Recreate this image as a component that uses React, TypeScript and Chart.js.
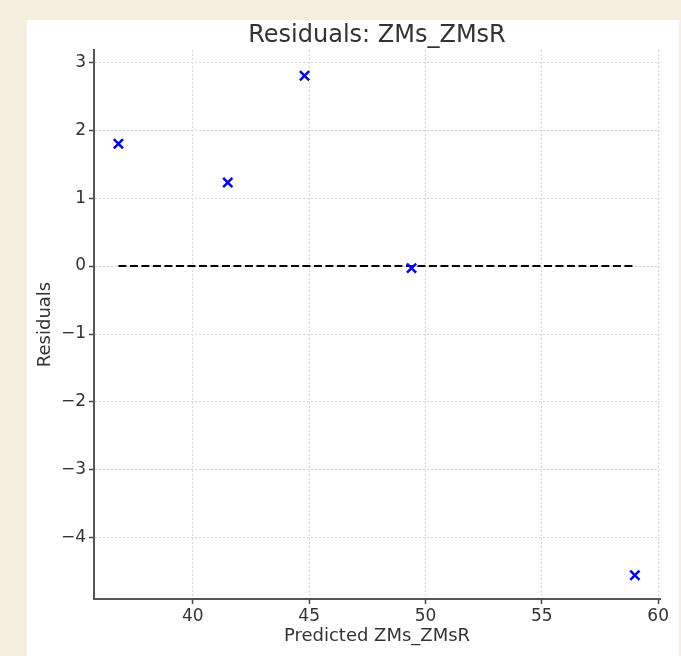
import React, { useEffect, useRef } from "react";
import { Chart, registerables } from "chart.js";

Chart.register(...registerables);

const chartTitle = "Residuals: ZMs_ZMsR";
const xLabel = "Predicted ZMs_ZMsR";
const yLabel = "Residuals";
const predicted = [36.8, 41.5, 44.8, 49.4, 59.0];
const residuals = [1.8, 1.23, 2.8, -0.03, -4.55];
const zeroLineX = [36.8, 59.0];
const zeroLineY = [0, 0];
const xTicks = [40, 45, 50, 55, 60];
const yTicks = [-4, -3, -2, -1, 0, 1, 2, 3];

const FONT = "'DejaVu Sans', sans-serif";

const titlePlugin = {
  id: "centeredTitle",
  afterDraw(chart: any) {
    const { ctx, chartArea } = chart;
    ctx.save();
    ctx.font = `24px ${FONT}`;
    ctx.fillStyle = "#333333";
    ctx.textAlign = "center";
    ctx.textBaseline = "alphabetic";
    ctx.fillText(chartTitle, (chartArea.left + chartArea.right) / 2, chartArea.top - 8);
    ctx.restore();
  },
};

export default function App() {
  const ref = useRef<HTMLCanvasElement>(null);
  useEffect(() => {
    const canvas = ref.current!;
    const chart = new Chart(canvas, {
      type: "scatter",
      data: {
        datasets: [
          {
            label: "Zero",
            data: zeroLineX.map((x, i) => ({ x, y: zeroLineY[i] })),
            showLine: true,
            borderColor: "#000000",
            borderWidth: 2,
            borderDash: [8, 3.5],
            pointRadius: 0,
            order: 2,
          },
          {
            label: "Residuals",
            data: predicted.map((x, i) => ({ x, y: residuals[i] })),
            pointStyle: "crossRot",
            pointRadius: 6.5,
            borderColor: "#0000ff",
            backgroundColor: "#0000ff",
            pointBorderWidth: 2.5,
            order: 1,
          },
        ],
      },
      plugins: [titlePlugin],
      options: {
        animation: false,
        responsive: false,
        layout: { padding: { top: 30, right: 19, bottom: 9, left: 0 } },
        plugins: {
          legend: { display: false },
          tooltip: { enabled: false },
          title: { display: false },
        },
        scales: {
          x: {
            type: "linear",
            min: 35.75,
            max: 60.08,
            afterBuildTicks: (s: any) => {
              s.ticks = xTicks.map((v) => ({ value: v }));
            },
            afterFit: (s: any) => {
              s.height = 48;
            },
            ticks: {
              color: "#333333",
              font: { family: FONT, size: 17 },
              padding: 2,
              maxRotation: 0,
            },
            grid: {
              color: "#d4d4d4",
              lineWidth: 1,
              tickColor: "#444444",
              tickLength: 5,
              tickWidth: 1.5,
              tickBorderDash: [],
            },
            border: { display: true, color: "#555555", width: 2, dash: [2, 2] },
            title: {
              display: true,
              text: xLabel,
              color: "#333333",
              font: { family: FONT, size: 18 },
              padding: { top: 0, bottom: 0 },
            },
          },
          y: {
            type: "linear",
            min: -4.9,
            max: 3.18,
            afterBuildTicks: (s: any) => {
              s.ticks = yTicks.map((v) => ({ value: v }));
            },
            afterFit: (s: any) => {
              s.width = 67;
            },
            ticks: {
              color: "#333333",
              font: { family: FONT, size: 17 },
              padding: 3,
              callback: (v: any) => String(v).replace("-", "\u2212"),
            },
            grid: {
              color: "#d4d4d4",
              lineWidth: 1,
              tickColor: "#444444",
              tickLength: 5,
              tickWidth: 1.5,
              tickBorderDash: [],
            },
            border: { display: true, color: "#555555", width: 2, dash: [2, 2] },
            title: {
              display: true,
              text: yLabel,
              color: "#333333",
              font: { family: FONT, size: 18 },
              padding: { top: 8, bottom: 0 },
            },
          },
        },
      },
    });
    return () => chart.destroy();
  }, []);

  return (
    <div
      style={{
        position: "fixed",
        left: 0,
        top: 0,
        width: 681,
        height: 656,
        background: "#f5ede0",
        overflow: "hidden",
      }}
    >
      <div
        style={{
          position: "absolute",
          left: 27,
          top: 20,
          width: 652,
          height: 636,
          background: "#ffffff",
        }}
      >
        <canvas ref={ref} width={652} height={636} style={{ display: "block" }} />
      </div>
    </div>
  );
}
